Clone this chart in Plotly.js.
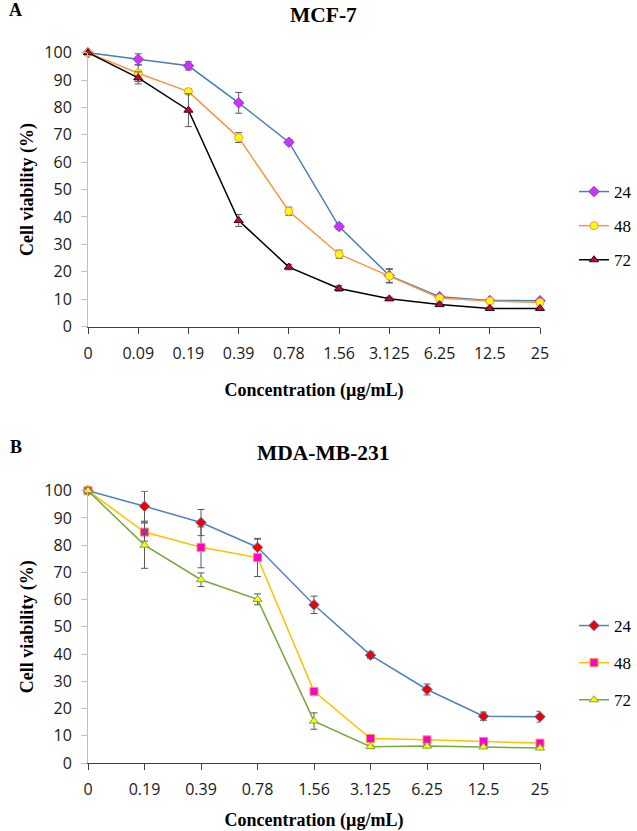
<!DOCTYPE html>
<html>
<head>
<meta charset="utf-8">
<script src="https://cdn.plot.ly/plotly-3.0.1.min.js"></script>
<style>html,body{margin:0;padding:0;background:#fff;}#chart{width:637px;height:831px;}</style>
</head>
<body>
<div id="chart"></div>
<script>
// ---- Data: MCF-7 ----
const concA = ["0", "0.09", "0.19", "0.39", "0.78", "1.56", "3.125", "6.25", "12.5", "25"];
const mcf24 = [100, 97.6, 95.2, 81.7, 67.3, 36.5, 18.6, 10.9, 9.5, 9.4];
const mcf24Err = [0, 2.0, 1.5, 3.8, 1.0, 1.0, 2.5, 0.6, 0.5, 0.6];
const mcf48 = [100, 92.5, 85.8, 69.0, 42.1, 26.4, 18.4, 10.4, 9.3, 8.8];
const mcf48Err = [0, 3.0, 1.0, 1.8, 1.5, 1.5, 2.5, 1.0, 0.6, 0.6];
const mcf72 = [100, 90.8, 79.0, 38.7, 21.7, 13.9, 10.1, 8.0, 6.6, 6.6];
const mcf72Err = [0, 2.2, 6.0, 2.2, 1.0, 1.0, 0.6, 0.6, 0.5, 0.5];

// ---- Data: MDA-MB-231 ----
const concB = ["0", "0.19", "0.39", "0.78", "1.56", "3.125", "6.25", "12.5", "25"];
const mda24 = [100, 94.3, 88.3, 79.2, 58.1, 39.6, 27.0, 17.2, 17.0];
const mda24Err = [0, 5.5, 4.8, 3.0, 3.2, 1.2, 2.0, 1.5, 2.0];
const mda48 = [100, 84.8, 79.2, 75.5, 26.3, 9.0, 8.5, 7.9, 7.3];
const mda48Err = [0, 3.3, 7.5, 7.0, 0.8, 0.5, 0.5, 0.5, 0.5];
const mda72 = [100, 80.0, 67.3, 60.1, 15.4, 6.0, 6.2, 5.9, 5.5];
const mda72Err = [0, 8.5, 2.5, 2.0, 3.0, 0.5, 0.5, 0.5, 0.5];

const seriesNames = ["24", "48", "72"];

const errStyle = (arr) => ({type: 'data', array: arr, visible: true, color: '#595959', thickness: 1, width: 3.5});

function tr(x, y, err, name, xa, ya, legend, lineColor, mSym, mColor, mLine) {
  return {
    x: x, y: y, name: name, type: 'scatter', mode: 'lines+markers',
    xaxis: xa, yaxis: ya, legend: legend, legendgroup: legend + name,
    line: {color: lineColor, width: 1.5},
    marker: {symbol: mSym, size: 8, color: mColor, line: {color: mLine, width: 1}},
    error_y: errStyle(err), cliponaxis: false
  };
}

const data = [
  tr(concA, mcf24, mcf24Err, seriesNames[0], 'x', 'y', 'legend', '#4a7ebb', 'diamond', '#cc33ff', '#9933cc'),
  tr(concA, mcf48, mcf48Err, seriesNames[1], 'x', 'y', 'legend', '#f79646', 'circle', '#ffff00', '#f79646'),
  tr(concA, mcf72, mcf72Err, seriesNames[2], 'x', 'y', 'legend', '#000000', 'triangle-up', '#cc0044', '#3a0010'),
  tr(concB, mda24, mda24Err, seriesNames[0], 'x2', 'y2', 'legend2', '#4f81bd', 'diamond', '#ee0000', '#4f81bd'),
  tr(concB, mda48, mda48Err, seriesNames[1], 'x2', 'y2', 'legend2', '#ffc000', 'square', '#ff00cc', '#f79646'),
  tr(concB, mda72, mda72Err, seriesNames[2], 'x2', 'y2', 'legend2', '#77a83c', 'triangle-up', '#ffff00', '#77a83c')
];

const W = 637, H = 831;
const px = v => v / W;
const py = v => 1 - v / H;

const tickFont = {family: 'Open Sans, sans-serif', size: 16, color: '#1a1a1a'};
const axTitleFont = {family: 'Liberation Serif, Times New Roman, serif', size: 18, color: '#000'};

function xax(n, anchor) {
  return {
    type: 'category', domain: [px(88), px(540)], range: [0, n - 1], anchor: anchor,
    showgrid: false, zeroline: false, showline: true, linecolor: '#404040', linewidth: 1,
    ticks: 'outside', ticklen: 6, tickcolor: '#404040', tickfont: tickFont, ticklabelstandoff: 6,
    title: {text: '<b>Concentration (µg/mL)</b>', font: axTitleFont, standoff: 20},
    fixedrange: true
  };
}
function yax(top, bottom, anchor) {
  return {
    domain: [py(bottom), py(top)], range: [0, 100], anchor: anchor, dtick: 10,
    showgrid: false, zeroline: false, showline: true, linecolor: '#c0c0c0', linewidth: 1,
    ticks: 'outside', ticklen: 6, tickcolor: '#c0c0c0', tickfont: tickFont, ticklabelstandoff: 6,
    title: {text: '<b>Cell viability (%)</b>', font: axTitleFont, standoff: 6},
    fixedrange: true
  };
}

const legendBase = {
  font: {family: 'Liberation Serif, Times New Roman, serif', size: 17, color: '#000'},
  bgcolor: 'rgba(0,0,0,0)', borderwidth: 0,
  xanchor: 'left', yanchor: 'top', itemwidth: 30
};

const layout = {
  width: W, height: H,
  margin: {l: 0, r: 0, t: 0, b: 0},
  paper_bgcolor: '#fff', plot_bgcolor: '#fff',
  showlegend: true,
  xaxis: xax(concA.length, 'y'),
  yaxis: yax(52.7, 326.5, 'x'),
  xaxis2: xax(concB.length, 'y2'),
  yaxis2: yax(490.7, 763, 'x2'),
  legend: Object.assign({}, legendBase, {x: px(574), y: py(174), tracegroupgap: 9}),
  legend2: Object.assign({}, legendBase, {x: px(574), y: py(608), tracegroupgap: 12}),
  annotations: [
    {text: '<b>A</b>', x: px(7), y: py(10), xref: 'paper', yref: 'paper', xanchor: 'left', yanchor: 'middle', showarrow: false,
     font: {family: 'Liberation Serif, serif', size: 18, color: '#000'}},
    {text: '<b>MCF-7</b>', x: px(323), y: py(15), xref: 'paper', yref: 'paper', xanchor: 'center', yanchor: 'middle', showarrow: false,
     font: {family: 'Liberation Serif, serif', size: 21.5, color: '#000'}},
    {text: '<b>B</b>', x: px(8), y: py(447), xref: 'paper', yref: 'paper', xanchor: 'left', yanchor: 'middle', showarrow: false,
     font: {family: 'Liberation Serif, serif', size: 18, color: '#000'}},
    {text: '<b>MDA-MB-231</b>', x: px(323), y: py(453), xref: 'paper', yref: 'paper', xanchor: 'center', yanchor: 'middle', showarrow: false,
     font: {family: 'Liberation Serif, serif', size: 21.5, color: '#000'}}
  ]
};

Plotly.newPlot('chart', data, layout, {displayModeBar: false, staticPlot: true});
</script>
</body>
</html>
